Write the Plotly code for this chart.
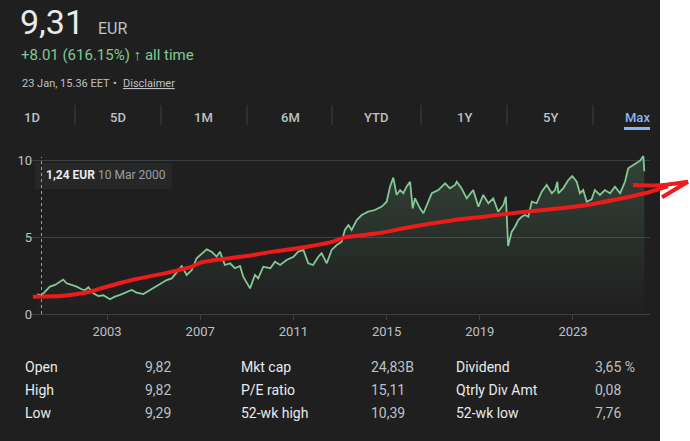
import datetime as dt
import plotly.graph_objects as go

# ---------------- data ----------------
price_dates = [
    "2000-01-03", "2000-03-10", "2000-05-05", "2000-07-20", "2000-10-08", "2000-12-24",
    "2001-02-13", "2001-04-09", "2001-06-28", "2001-09-13", "2001-11-28",
    "2002-01-23", "2002-03-15", "2002-05-31", "2002-08-19", "2002-11-04",
    "2003-02-17", "2003-05-05", "2003-07-24", "2003-11-06",
    "2004-01-23", "2004-04-09", "2004-07-24", "2004-11-06",
    "2005-03-15", "2005-07-24", "2005-10-12", "2005-12-28",
    "2006-03-18", "2006-06-03", "2006-08-22", "2006-11-06",
    "2007-01-23", "2007-04-13", "2007-06-28", "2007-09-16", "2007-11-06",
    "2008-01-23", "2008-04-13", "2008-06-28", "2008-09-16", "2008-11-06",
    "2009-02-20", "2009-05-08", "2009-06-28", "2009-09-16",
    "2010-01-04", "2010-03-18", "2010-06-07", "2010-09-16",
    "2011-01-03", "2011-03-18", "2011-06-07", "2011-08-22", "2011-11-06",
    "2012-01-27", "2012-03-18", "2012-06-07", "2012-08-22", "2012-11-10",
    "2013-01-27", "2013-03-18", "2013-05-12", "2013-07-02", "2013-09-20", "2013-12-06",
    "2014-03-18", "2014-07-02", "2014-10-16",
    "2015-01-02", "2015-02-24", "2015-04-16", "2015-06-07", "2015-07-31", "2015-09-20", "2015-11-10",
    "2016-01-04", "2016-02-14", "2016-03-22", "2016-06-07", "2016-07-31", "2016-09-20", "2016-12-10",
    "2017-03-22", "2017-07-06", "2017-09-20", "2017-12-10",
    "2018-01-05", "2018-03-22", "2018-06-10", "2018-09-20", "2018-12-10",
    "2019-02-24", "2019-05-15", "2019-07-31", "2019-10-16",
    "2020-01-06", "2020-02-14", "2020-03-20", "2020-05-15", "2020-07-06", "2020-08-26", "2020-10-20", "2020-12-10",
    "2021-01-30", "2021-03-26", "2021-06-10", "2021-08-29", "2021-11-14",
    "2022-02-03", "2022-03-26", "2022-05-01", "2022-05-16", "2022-07-31", "2022-10-20", "2022-12-20",
    "2023-02-28", "2023-04-20", "2023-06-10", "2023-08-04", "2023-10-20", "2023-12-10",
    "2024-02-28", "2024-05-15", "2024-08-04", "2024-10-20",
    "2025-01-08", "2025-03-26", "2025-05-16", "2025-08-04", "2025-09-24", "2025-11-18",
    "2026-01-08", "2026-01-23",
]
price_values = [
    1.30, 1.24, 1.47, 1.80, 1.91, 2.12,
    2.26, 2.02, 1.91, 1.80, 1.63,
    1.58, 1.76, 1.37, 1.19, 1.24,
    0.98, 1.15, 1.26, 1.47,
    1.58, 1.41, 1.32, 1.58,
    1.91, 2.23, 2.34, 2.77,
    3.14, 2.56, 2.88, 3.65,
    3.97, 4.23, 4.08, 3.75, 4.08,
    3.21, 3.32, 3.00, 3.15, 2.45,
    1.69, 2.56, 2.34, 3.10,
    3.00, 3.42, 3.21, 3.54,
    3.75, 4.08, 4.19, 3.32, 3.21,
    3.75, 3.97, 3.32, 4.19, 4.51,
    4.73, 5.49, 5.81, 5.49, 6.14, 6.46,
    6.68, 6.79, 7.01,
    7.33, 8.31, 8.90, 7.77, 8.09, 7.88, 8.31,
    8.63, 6.90, 7.55, 6.90, 6.58, 7.12, 7.88,
    8.09, 8.53, 8.20, 8.42,
    8.63, 8.20, 7.55, 8.09, 7.01,
    7.77, 7.23, 7.55, 6.68,
    7.12, 7.66, 4.45, 5.38, 5.70, 6.14, 6.35, 6.46,
    6.35, 7.33, 7.23, 7.98, 8.42,
    7.88, 8.09, 8.63, 7.88, 8.20, 8.74, 9.00,
    8.63, 7.88, 8.09, 7.33, 7.49, 8.09,
    7.77, 8.09, 7.88, 8.31,
    7.88, 8.63, 9.51, 9.72, 9.83, 10.00,
    10.31, 9.31,
]

# hand-drawn red trend curve with arrow (None separates strokes)
trend_dates = [
    "1999-10-27", "2001-02-11", "2002-04-08", "2002-09-13", "2003-04-05", "2004-03-15",
    "2005-08-14", "2006-08-25", "2006-12-28", "2007-09-20", "2008-12-03", "2010-02-15",
    "2011-08-01", "2012-09-13", "2013-03-20", "2014-08-18", "2016-02-03", "2017-12-08",
    "2019-02-20", "2020-08-06", "2022-06-11", "2023-08-23", "2025-02-07", "2026-02-02",
    "2027-01-28", None,
    "2025-07-29", "2026-09-25", "2027-12-08", None,
    "2026-10-27", "2027-12-08",
]
trend_values = [
    1.15, 1.21, 1.47, 1.67, 1.91, 2.28,
    2.71, 3.10, 3.35, 3.55, 3.78, 4.08,
    4.40, 4.73, 5.01, 5.27, 5.70, 6.14,
    6.35, 6.62, 6.90, 7.12, 7.55, 7.88,
    8.33, None,
    8.42, 8.40, 8.63, None,
    7.62, 8.63,
]

year_ticks = ["2003-01-01", "2007-01-01", "2011-01-01", "2015-01-01", "2019-01-01", "2023-01-01"]
year_labels = ["2003", "2007", "2011", "2015", "2019", "2023"]
y_ticks = [0, 5, 10]
y_labels = ["0", "5", "10"]

hover_date = "2000-03-10"
hover_label = "1,24 EUR"
hover_date_label = "10 Mar 2000"

price_text = "9,31"
currency = "EUR"
change_text = "+8.01 (616.15%) <b>↑</b> all time"
time_text = "23 Jan, 15.36 EET"
tabs = ["1D", "5D", "1M", "6M", "YTD", "1Y", "5Y", "Max"]

stat_labels_1 = ["Open", "High", "Low"]
stat_values_1 = ["9,82", "9,82", "9,29"]
stat_labels_2 = ["Mkt cap", "P/E ratio", "52-wk high"]
stat_values_2 = ["24,83B", "15,11", "10,39"]
stat_labels_3 = ["Dividend", "Qtrly Div Amt", "52-wk low"]
stat_values_3 = ["3,65 %", "0,08", "7,76"]

# ---------------- layout helpers ----------------
W, H = 690, 441
BG = "#1f1f1f"
GRID = "#3c4043"
FONT = "Roboto"


def fy(y):
    year = int(y)
    a = dt.datetime(year, 1, 1)
    b = dt.datetime(year + 1, 1, 1)
    return (a + (b - a) * (y - year)).strftime("%Y-%m-%d %H:%M")


def px(x):
    return x / W


def py(y):
    return 1 - y / H


PX_PER_YEAR = 23.3
T0_PX = 107.0  # pixel of 2003-01-01


def year_at(p):
    return 2003 + (p - T0_PX) / PX_PER_YEAR


plot_left, plot_right = 30, 650
y0_px, ytop_px = 314.3, 150
px_per_unit = 15.36
ymax = (y0_px - ytop_px) / px_per_unit

fig = go.Figure()

fig.add_trace(go.Scatter(
    x=price_dates, y=price_values, mode="lines",
    line=dict(color="#81c995", width=1.8),
    fill="tozeroy",
    fillgradient=dict(type="vertical", start=0, stop=10,
                      colorscale=[[0, "rgba(129,201,149,0)"], [1, "rgba(129,201,149,0.20)"]]),
    xaxis="x", yaxis="y", hoverinfo="skip", showlegend=False,
))

fig.add_trace(go.Scatter(
    x=trend_dates, y=trend_values, mode="lines",
    line=dict(color="#ee1b1b", width=4, shape="spline", smoothing=0.6),
    connectgaps=False,
    xaxis="x2", yaxis="y2", hoverinfo="skip", showlegend=False,
))

ydom = [py(y0_px), py(ytop_px)]

fig.update_layout(
    width=W, height=H, autosize=False,
    margin=dict(l=0, r=0, t=0, b=0, pad=0, autoexpand=False),
    paper_bgcolor="white",
    plot_bgcolor="rgba(0,0,0,0)",
    font=dict(family=FONT, color="#bdc1c6"),
    xaxis=dict(
        domain=[px(plot_left), px(plot_right)],
        range=[fy(year_at(plot_left)), fy(year_at(plot_right))],
        type="date", tickvals=year_ticks, ticktext=year_labels,
        showgrid=False, zeroline=False,
        showline=True, linecolor=GRID, linewidth=1,
        ticks="outside", ticklen=5, tickcolor=GRID, tickwidth=1,
        tickfont=dict(size=13, color="#bdc1c6", family=FONT),
        anchor="y", fixedrange=True, automargin=False,
    ),
    yaxis=dict(
        domain=ydom, range=[0, ymax],
        tickvals=y_ticks, ticktext=y_labels,
        showgrid=True, gridcolor=GRID, gridwidth=1, zeroline=False,
        showline=False, ticks="",
        tickfont=dict(size=13, color="#bdc1c6", family=FONT),
        ticklabelstandoff=-3,
        anchor="x", fixedrange=True, automargin=False,
    ),
    xaxis2=dict(
        domain=[0, 1],
        range=[fy(year_at(0)), fy(year_at(W))],
        type="date", visible=False, anchor="y2", fixedrange=True,
    ),
    yaxis2=dict(
        domain=ydom, range=[0, ymax],
        visible=False, anchor="x2", fixedrange=True,
    ),
)

shapes = []
# dark panel (right strip stays white)
shapes.append(dict(type="rect", xref="paper", yref="paper", x0=0, x1=px(660), y0=0, y1=1,
                   fillcolor=BG, line=dict(width=0), layer="below"))
# tooltip box
shapes.append(dict(type="rect", xref="paper", yref="paper", x0=px(35), x1=px(172),
                   y0=py(189), y1=py(163), fillcolor="#272727", line=dict(width=0), layer="below"))
# hover dotted line
shapes.append(dict(type="line", xref="x", yref="paper", x0=hover_date, x1=hover_date,
                   y0=py(314), y1=py(157), line=dict(color="#9aa0a6", width=1, dash="dot"), layer="above"))
# tab separators
for sx in [75, 161, 247, 332, 421, 507, 593]:
    shapes.append(dict(type="line", xref="paper", yref="paper", x0=px(sx), x1=px(sx),
                       y0=py(125), y1=py(105), line=dict(color="#3c4043", width=1)))
# Max underline
shapes.append(dict(type="rect", xref="paper", yref="paper", x0=px(624), x1=px(650),
                   y0=py(130), y1=py(127), fillcolor="#8ab4f8", line=dict(width=0)))
fig.update_layout(shapes=shapes)

ann = []


def text(x, y, s, size, color, anchor="left", weight="normal", **fontkw):
    ann.append(dict(x=px(x), y=py(y), xref="paper", yref="paper", text=s, showarrow=False,
                    xanchor=anchor, yanchor="middle",
                    font=dict(family=FONT, size=size, color=color, weight=weight, **fontkw)))


text(18, 22, price_text, 34, "#e8eaed")
text(96, 28, currency, 16, "#bdc1c6")
text(19, 55, change_text, 15, "#81c995")
text(20, 83, time_text, 11, "#bdc1c6")
text(115, 83, "•", 11, "#bdc1c6", anchor="center")
text(121, 83, "Disclaimer", 11, "#bdc1c6", lineposition="under")

tab_x = [32, 118, 203, 290, 376, 464, 550, 637]
for tx, t in zip(tab_x, tabs):
    text(tx, 117, t, 13, "#8ab4f8" if t == "Max" else "#bdc1c6", anchor="center", weight=500)

text(44, 175, "<b>" + hover_label + "</b>", 12, "#e8eaed")
text(96, 175, hover_date_label, 12, "#9aa0a6")

rows_y = [366.7, 390, 412.7]
cols = [(23, stat_labels_1, "#e8eaed"), (143, stat_values_1, "#bdc1c6"),
        (239, stat_labels_2, "#e8eaed"), (369, stat_values_2, "#bdc1c6"),
        (454, stat_labels_3, "#e8eaed"), (593, stat_values_3, "#bdc1c6")]
for cx, items, col in cols:
    for ry, s in zip(rows_y, items):
        text(cx, ry, s, 14, col)

fig.update_layout(annotations=ann)

fig.write_html("out.html", config={"responsive": False, "displayModeBar": False},
               default_width="690px", default_height="441px")
